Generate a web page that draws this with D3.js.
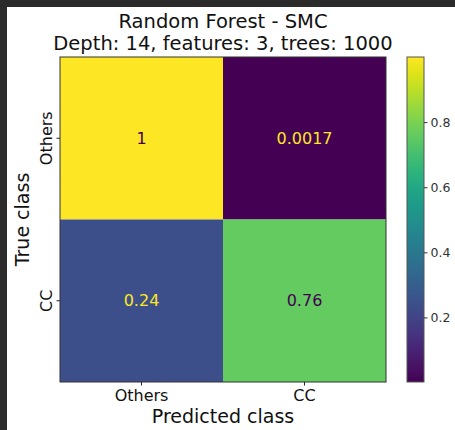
<!DOCTYPE html>
<html>
<head>
<meta charset="utf-8">
<script src="https://cdn.jsdelivr.net/npm/d3@7/dist/d3.min.js"></script>
<style>
  html, body { margin: 0; padding: 0; background: #2b2b2b; }
  svg { display: block; font-family: "DejaVu Sans", sans-serif; }
</style>
</head>
<body>
<svg id="chart" width="455" height="430"></svg>
<script>
// Normalised confusion matrix: rows = true class, columns = predicted class
const classes = ["Others", "CC"];
const rowOthers = [1, 0.0017];
const rowCC = [0.24, 0.76];
const cellLabels = [["1", "0.0017"], ["0.24", "0.76"]];
const colorbarTicks = [0.2, 0.4, 0.6, 0.8];
const titleLines = ["Random Forest - SMC", "Depth: 14, features: 3, trees: 1000"];

const rows = [rowOthers, rowCC];
const cells = [];
rows.forEach((r, i) => r.forEach((v, j) => cells.push({ t: classes[i], p: classes[j], v, label: cellLabels[i][j] })));

const svg = d3.select("#chart");

// white figure area, dark window strip on top and left
svg.append("rect").attr("x", 7).attr("y", 7).attr("width", 448).attr("height", 423).attr("fill", "#ffffff");

const mLeft = 60, mRight = 386, mTop = 57, mBottom = 382;
const x = d3.scaleBand().domain(classes).range([mLeft, mRight]);
const y = d3.scaleBand().domain(classes).range([mTop, mBottom]);

const allVals = rows.flat();
const vmin = d3.min(allVals), vmax = d3.max(allVals);
const color = d3.scaleSequential(d3.interpolateViridis).domain([vmin, vmax]);
const mid = (vmin + vmax) / 2;

// cells
svg.append("g").selectAll("rect").data(cells).join("rect")
  .attr("x", d => x(d.p)).attr("y", d => y(d.t))
  .attr("width", x.bandwidth()).attr("height", y.bandwidth())
  .attr("fill", d => color(d.v));

// cell annotations
svg.append("g").selectAll("text").data(cells).join("text")
  .attr("x", d => x(d.p) + x.bandwidth() / 2)
  .attr("y", d => y(d.t) + y.bandwidth() / 2 + 5.5)
  .attr("text-anchor", "middle")
  .attr("font-size", 16)
  .attr("fill", d => d.v > mid ? color(vmin) : color(vmax))
  .text(d => d.label);

// matrix frame
svg.append("rect").attr("x", mLeft).attr("y", mTop)
  .attr("width", mRight - mLeft).attr("height", mBottom - mTop)
  .attr("fill", "none").attr("stroke", "#333").attr("stroke-width", 1);

// x axis
const xAxis = svg.append("g").attr("transform", `translate(0,${mBottom})`)
  .call(d3.axisBottom(x).tickSize(3.5).tickPadding(4));
xAxis.select(".domain").remove();
xAxis.selectAll("text").attr("font-size", 16).attr("fill", "#111").attr("font-family", "DejaVu Sans");
xAxis.selectAll("line").attr("stroke", "#222");

// y axis with rotated labels
const yAxis = svg.append("g").attr("transform", `translate(${mLeft},0)`)
  .call(d3.axisLeft(y).tickSize(3.5));
yAxis.select(".domain").remove();
yAxis.selectAll("line").attr("stroke", "#222");
yAxis.selectAll("text")
  .attr("font-size", 16).attr("fill", "#111").attr("font-family", "DejaVu Sans")
  .attr("x", null).attr("dy", null)
  .attr("text-anchor", "middle")
  .attr("transform", "translate(-8,0) rotate(-90)");

// axis titles
svg.append("text").attr("x", (mLeft + mRight) / 2).attr("y", 423)
  .attr("text-anchor", "middle").attr("font-size", 19).attr("fill", "#111")
  .text("Predicted class");
svg.append("text")
  .attr("transform", `translate(29,${(mTop + mBottom) / 2}) rotate(-90)`)
  .attr("text-anchor", "middle").attr("font-size", 19).attr("fill", "#111")
  .text("True class");

// title
svg.append("g").selectAll("text").data(titleLines).join("text")
  .attr("x", (mLeft + mRight) / 2).attr("y", (d, i) => 28 + i * 22)
  .attr("text-anchor", "middle").attr("font-size", 19.5).attr("fill", "#111")
  .text(d => d);

// colorbar
const cbX = 407, cbW = 17;
const cbScale = d3.scaleLinear().domain([vmin, vmax]).range([mBottom, mTop]);
const grad = svg.append("defs").append("linearGradient").attr("id", "cbgrad")
  .attr("x1", 0).attr("y1", 1).attr("x2", 0).attr("y2", 0);
d3.range(0, 1.0001, 0.05).forEach(t => {
  grad.append("stop").attr("offset", t).attr("stop-color", color(vmin + t * (vmax - vmin)));
});
svg.append("rect").attr("x", cbX).attr("y", mTop).attr("width", cbW).attr("height", mBottom - mTop)
  .attr("fill", "url(#cbgrad)").attr("stroke", "#555").attr("stroke-width", 1);

const cbAxis = svg.append("g").attr("transform", `translate(${cbX + cbW},0)`)
  .call(d3.axisRight(cbScale).tickValues(colorbarTicks).tickFormat(d3.format(".1f")).tickSize(3.5).tickPadding(3));
cbAxis.select(".domain").remove();
cbAxis.selectAll("line").attr("stroke", "#333");
cbAxis.selectAll("text").attr("font-size", 12.5).attr("fill", "#333").attr("font-family", "DejaVu Sans");
</script>
</body>
</html>
